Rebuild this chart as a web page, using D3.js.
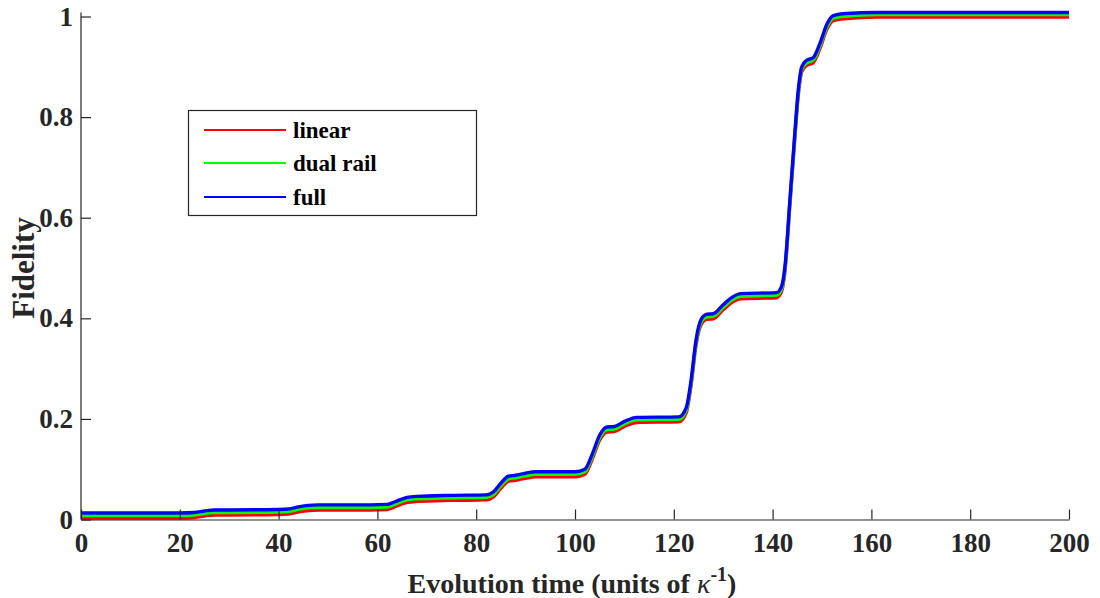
<!DOCTYPE html>
<html>
<head>
<meta charset="utf-8">
<script src="https://cdn.jsdelivr.net/npm/d3@7"></script>
<style>
  body { margin: 0; background: #fff; }
  svg { display: block; font-family: "Liberation Serif", "Times New Roman", serif; font-weight: bold; }
</style>
</head>
<body>
<svg></svg>
<script>

// time points (units of 1/kappa)
var times = [0, 20, 23, 25, 27, 30, 40, 42, 44, 46, 48, 55, 62, 63, 64.5, 66, 68, 75, 82, 83.5,
  85, 86.5, 88, 90, 92, 100, 102, 103.5, 105, 106.5, 108, 110, 112.5, 121, 122.5, 123.5,
  124.5, 125.5, 126.7, 128, 130, 132, 133.5, 140.8, 141.8, 142.5, 143.5, 144.5, 145.2,
  145.9, 146.9, 148.2, 149.6, 151, 152.3, 155, 161, 200];

var linear = [0.003, 0.003, 0.004, 0.007, 0.009, 0.009, 0.010, 0.011, 0.015, 0.018, 0.019,
  0.019, 0.020, 0.023, 0.029, 0.034, 0.036, 0.038, 0.039, 0.045, 0.062, 0.076, 0.078,
  0.082, 0.085, 0.085, 0.090, 0.120, 0.158, 0.174, 0.175, 0.185, 0.193, 0.194, 0.212,
  0.267, 0.347, 0.387, 0.398, 0.399, 0.417, 0.433, 0.439, 0.441, 0.453, 0.493, 0.625,
  0.758, 0.844, 0.890, 0.903, 0.908, 0.937, 0.975, 0.992, 0.996, 0.999, 0.999];

var dualRail = [0.008, 0.008, 0.009, 0.012, 0.014, 0.014, 0.015, 0.016, 0.020, 0.023, 0.024,
  0.024, 0.025, 0.028, 0.034, 0.039, 0.041, 0.043, 0.044, 0.050, 0.067, 0.081, 0.083,
  0.087, 0.090, 0.090, 0.095, 0.125, 0.163, 0.179, 0.180, 0.190, 0.198, 0.199, 0.217,
  0.272, 0.352, 0.392, 0.403, 0.404, 0.422, 0.438, 0.444, 0.446, 0.458, 0.498, 0.630,
  0.763, 0.849, 0.895, 0.908, 0.913, 0.942, 0.980, 0.997, 1.001, 1.004, 1.004];

var full = [0.013, 0.013, 0.014, 0.017, 0.019, 0.019, 0.020, 0.021, 0.025, 0.028, 0.029,
  0.029, 0.030, 0.033, 0.039, 0.044, 0.046, 0.048, 0.049, 0.055, 0.072, 0.086, 0.088,
  0.092, 0.095, 0.095, 0.100, 0.130, 0.168, 0.184, 0.185, 0.195, 0.203, 0.204, 0.222,
  0.277, 0.357, 0.397, 0.408, 0.409, 0.427, 0.443, 0.449, 0.451, 0.463, 0.503, 0.635,
  0.768, 0.854, 0.900, 0.913, 0.918, 0.947, 0.985, 1.002, 1.006, 1.008, 1.008];

var seriesNames = ["linear", "dual rail", "full"];
var seriesColors = ["#ff0000", "#00ff00", "#0000ff"];
var seriesValues = [linear, dualRail, full];

var xTicks = [0, 20, 40, 60, 80, 100, 120, 140, 160, 180, 200];
var yTicks = [0, 0.2, 0.4, 0.6, 0.8, 1];

var width = 1100, height = 598;
var axisColor = "#262626";

var svg = d3.select("svg")
    .attr("width", width)
    .attr("height", height);

var xScale = d3.scaleLinear()
    .domain([0, 200])
    .range([81, 1069]);

var yScale = d3.scaleLinear()
    .domain([0, 1.008])
    .range([519.5, 12.5]);

// lines
var line = d3.line()
    .x(function(d) { return xScale(d[0]); })
    .y(function(d) { return yScale(d[1]); })
    .curve(d3.curveMonotoneX);

seriesValues.forEach(function(vals, k) {
    svg.append("path")
        .datum(times.map(function(t, i) { return [t, vals[i]]; }))
        .attr("fill", "none")
        .attr("stroke", seriesColors[k])
        .attr("stroke-width", 3.4)
        .attr("stroke-linejoin", "round")
        .attr("d", line);
});

// axes
var x_axis = d3.axisBottom(xScale)
    .tickValues(xTicks)
    .tickSizeInner(-10)
    .tickSizeOuter(0)
    .tickPadding(14);

var y_axis = d3.axisLeft(yScale)
    .tickValues(yTicks)
    .tickFormat(d3.format("~g"))
    .tickSizeInner(-10)
    .tickSizeOuter(0)
    .tickPadding(8);

var gx = svg.append("g")
    .attr("transform", "translate(0," + yScale(0) + ")")
    .call(x_axis);

var gy = svg.append("g")
    .attr("transform", "translate(" + xScale(0) + ",0)")
    .call(y_axis);

[gx, gy].forEach(function(g) {
    g.select(".domain").attr("stroke", axisColor).attr("stroke-width", 1.2);
    g.selectAll(".tick line").attr("stroke", axisColor).attr("stroke-width", 1.2);
    g.selectAll(".tick text")
        .attr("fill", axisColor)
        .style("font-family", "'Liberation Serif', serif")
        .style("font-weight", "bold")
        .style("font-size", "27px");
});
gx.selectAll(".tick text").attr("dy", "0.68em");

// make y domain reach the top of the range
gy.select(".domain").attr("d", "M0," + yScale(0) + "V" + yScale(1.008));

// axis titles
var xt = svg.append("text")
    .attr("x", 572)
    .attr("y", 593)
    .attr("text-anchor", "middle")
    .attr("fill", axisColor)
    .style("font-size", "28px");
xt.append("tspan").text("Evolution time (units of ");
xt.append("tspan").style("font-style", "italic").style("font-weight", "normal").text("\u03ba");
xt.append("tspan").attr("dy", -12).style("font-size", "20px").text("-1");
xt.append("tspan").attr("dy", 12).text(")");

svg.append("text")
    .attr("transform", "translate(34," + 268 + ") rotate(-90)")
    .attr("text-anchor", "middle")
    .attr("fill", axisColor)
    .style("font-size", "31px")
    .text("Fidelity");

// legend
var legend = svg.append("g");
legend.append("rect")
    .attr("x", 188.5)
    .attr("y", 110.5)
    .attr("width", 288)
    .attr("height", 105)
    .attr("fill", "#fff")
    .attr("stroke", axisColor)
    .attr("stroke-width", 1.2);

var rowY = [130, 163, 197];
seriesNames.forEach(function(name, k) {
    legend.append("line")
        .attr("x1", 204).attr("x2", 286)
        .attr("y1", rowY[k]).attr("y2", rowY[k])
        .attr("stroke", seriesColors[k])
        .attr("stroke-width", 2.2);
    legend.append("text")
        .attr("x", 293)
        .attr("y", rowY[k] + 7.5)
        .attr("fill", "#000")
        .style("font-size", "23px")
        .text(name);
});

</script>
</body>
</html>
